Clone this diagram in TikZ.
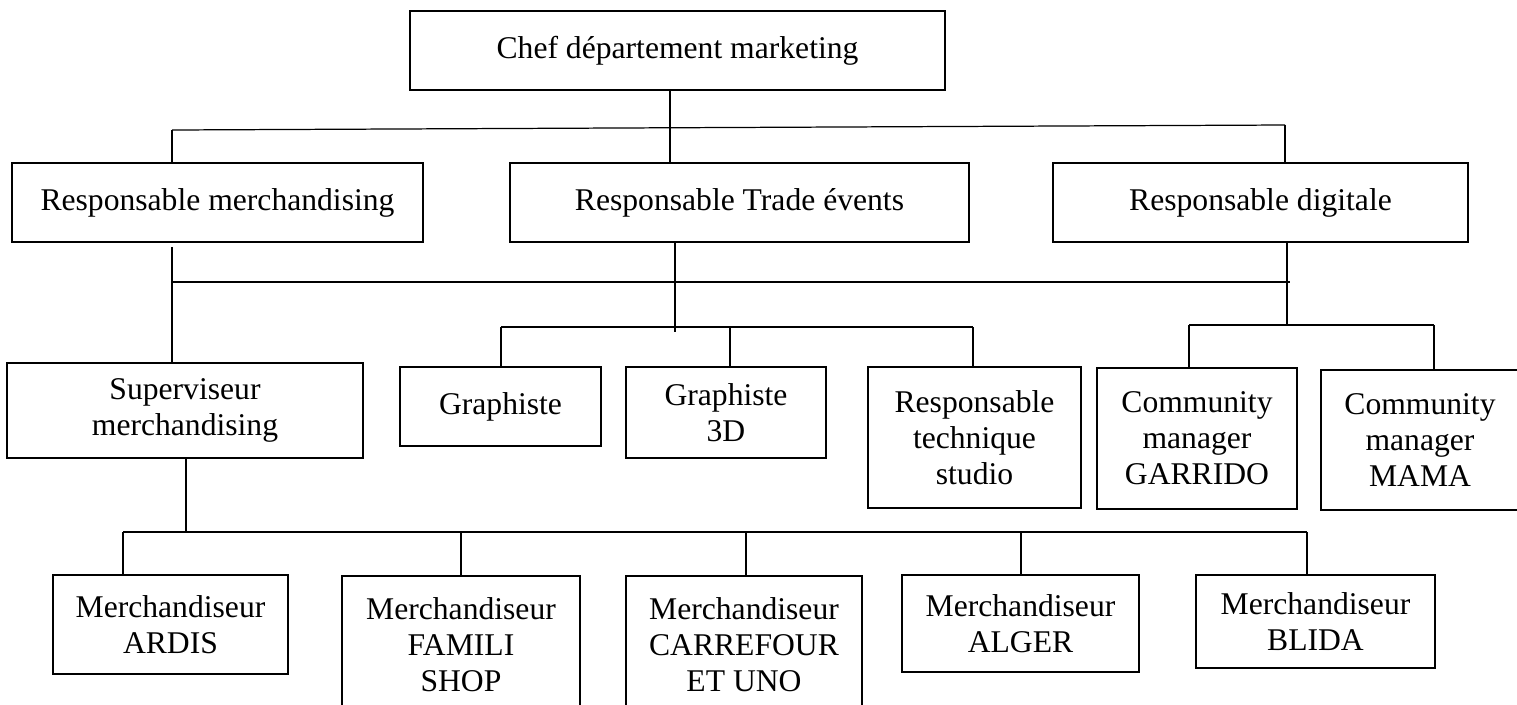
\documentclass[tikz,border=0pt]{standalone}
\usepackage{fontspec}
\setmainfont{Liberation Serif}
\usepackage{tikz}
\usetikzlibrary{positioning, calc}

\begin{document}
\begin{tikzpicture}[
  x=0.02cm, y=-0.02cm,
  box/.style={rectangle, draw, line width=1.5pt, align=center, inner sep=0pt,
              font=\fontsize{18}{20.5}\selectfont},
  link/.style={draw, line width=0.7pt}
]
\useasboundingbox (0,0) rectangle (1517,704);

% head
\node[box, minimum width=10.7cm, minimum height=1.58cm] (chef) at (677.5,50.5)
      {Chef département marketing};

% responsables
\node[box, minimum width=8.22cm, minimum height=1.58cm] (merch) at (217.5,202.5)
      {Responsable merchandising};
\node[box, minimum width=9.18cm, minimum height=1.58cm] (trade) at (739.5,202.5)
      {Responsable Trade évents};
\node[box, minimum width=8.3cm,  minimum height=1.58cm] (digit) at (1260.5,202.5)
      {Responsable digitale};

% third row
\node[box, minimum width=7.12cm, minimum height=1.9cm]  (superv)  at (185,410.5)
      {Superviseur\\merchandising};
\node[box, minimum width=4.02cm, minimum height=1.58cm] (graph)   at (500.5,406.5)
      {Graphiste};
\node[box, minimum width=4.0cm,  minimum height=1.82cm] (graphtd) at (726,412.5)
      {Graphiste\\3D};
\node[box, minimum width=4.26cm, minimum height=2.82cm] (restech) at (974.5,437.5)
      {Responsable\\technique\\studio};
\node[box, minimum width=4.0cm,  minimum height=2.82cm] (cmgar)   at (1197,438.5)
      {Community\\manager\\GARRIDO};
\node[box, minimum width=3.96cm, minimum height=2.8cm]  (cmmama)  at (1420,440)
      {Community\\manager\\MAMA};

% merchandiseurs
\node[box, minimum width=4.7cm,  minimum height=1.98cm] (ardis)  at (170.5,624.5)
      {Merchandiseur\\ARDIS};
\node[box, minimum width=4.76cm, minimum height=2.76cm] (famili) at (461,645)
      {Merchandiseur\\FAMILI\\SHOP};
\node[box, minimum width=4.72cm, minimum height=2.76cm] (carref) at (744,645)
      {Merchandiseur\\CARREFOUR\\ET UNO};
\node[box, minimum width=4.74cm, minimum height=1.94cm] (alger)  at (1020.5,623.5)
      {Merchandiseur\\ALGER};
\node[box, minimum width=4.78cm, minimum height=1.86cm] (blida)  at (1315.5,621.5)
      {Merchandiseur\\BLIDA};

% bus under the head
\coordinate (busAl) at (172,130);
\coordinate (busAm) at (670,128);
\coordinate (busAr) at (1285,125);
\draw[link] (busAl) -- (busAr);
\draw[link] (chef.south -| busAm) -- (busAm |- trade.north);
\draw[link] (busAl) -- (busAl |- merch.north);
\draw[link] (busAr) -- (busAr |- digit.north);

% bus under the responsables
\coordinate (busBl) at (172,282);
\coordinate (busBr) at (1290,282);
\coordinate (tradedown) at (675,332);
\coordinate (digitdown) at (1287,326);
\draw[link] (busBl) -- (busBr);
\draw[link] ([yshift=-2pt]merch.south -| busBl) -- (busBl |- superv.north);
\draw[link] (trade.south -| tradedown) -- (tradedown);
\draw[link] (digit.south -| digitdown) -- (digitdown);

% graphistes
\coordinate (busGl) at (501,327);
\coordinate (busGm) at (730,327);
\coordinate (busGr) at (973,327);
\draw[link] (busGl) -- (busGr);
\draw[link] (busGl) -- (busGl |- graph.north);
\draw[link] (busGm) -- (busGm |- graphtd.north);
\draw[link] (busGr) -- (busGr |- restech.north);

% community managers
\coordinate (busCl) at (1189,325);
\coordinate (busCr) at (1434,325);
\draw[link] (busCl) -- (busCr);
\draw[link] (busCl) -- (busCl |- cmgar.north);
\draw[link] (busCr) -- (busCr |- cmmama.north);

% merchandiseurs
\coordinate (busMs) at (186,532);
\draw[link] (superv.south -| busMs) -- (busMs);
\draw[link] (123,532) -- (1307,532);
\foreach \x/\n in {123/ardis, 461/famili, 746/carref, 1021/alger, 1307/blida} {
  \coordinate (m\n) at (\x,532);
  \draw[link] (m\n) -- (m\n |- \n.north);
}

\end{tikzpicture}
\end{document}
